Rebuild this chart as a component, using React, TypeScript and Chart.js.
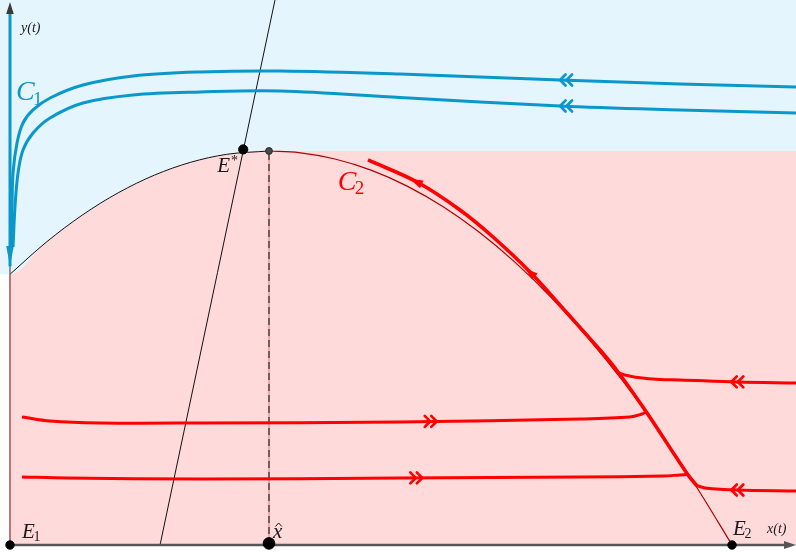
import { useEffect, useRef } from "react";
import { Chart, registerables } from "chart.js";

Chart.register(...registerables);

// Visible window of the phase plane (x: prey, y: predator)
const X_MIN = -1.385;
const X_MAX = 108.86;
const Y_MIN = -1.777;
const Y_MAX = 138.32;

// Equilibria and special abscissae
const E1 = { x: 0, y: 0 };
const E2 = { x: 100, y: 0 };
const X_HAT = 35.87;
const PEAK_Y = 100;
const E_STAR = { x: 32.3, y: 100.4 };
const Y_AXIS_CUSP = 68.71;

// Prey nullcline: separatrix between regions C1 and C2
const boundaryX = [0, 5, 10, 15, 20, 25, 30, 35.87, 40, 45, 50, 55, 60, 65, 70, 75, 80, 85, 90, 95, 100];
const boundaryY = [68.71, 76.82, 83.72, 89.4, 93.87, 97.12, 99.15, 100, 99.58, 97.96, 95.14, 91.09, 85.84, 79.36, 71.67, 62.76, 52.64, 41.31, 28.75, 14.98, 0];

// Predator nullcline
const isoclineX = [20.78, 36.7];
const isoclineY = [0, 138.32];

// Trajectories in C1 (blue)
const c1UpperX = [108.86, 92.8, 76.18, 54.02, 37.4, 26.32, 17.04, 10.11, 5.54, 3.19, 1.8, 0.97, 0.42, 0.28, 0.14];
const c1UpperY = [116.24, 117.01, 118.02, 119.54, 120.3, 120.05, 119.04, 116.75, 113.45, 110.41, 107.11, 102.03, 94.42, 85.79, 75.63];
const c1LowerX = [108.86, 92.8, 76.18, 54.02, 37.4, 26.32, 17.04, 10.11, 5.54, 3.19, 1.8, 1.11, 0.69, 0.42];
const c1LowerY = [109.64, 110.41, 111.42, 113.58, 115.23, 114.97, 114.21, 112.18, 108.38, 104.57, 100.25, 94.42, 85.79, 75.63];

// Trajectories in C2 (red)
const c2SlowX = [95.29, 93.91, 88.23, 84.21, 81.72, 77.15, 72.02, 66.9, 62.33, 56.37, 49.58];
const c2SlowY = [14.72, 17.77, 33.5, 43.91, 49.49, 58.88, 69.29, 78.17, 85.03, 92.13, 97.72];
const c2RightUpperX = [108.86, 100.69, 92.8, 90.0, 87.0, 85.3, 84.4];
const c2RightUpperY = [41.12, 41.37, 41.88, 42.0, 42.5, 43.1, 43.6];
const c2RightLowerX = [108.86, 100.69, 96.26, 95.29];
const c2RightLowerY = [13.71, 13.96, 14.47, 14.97];
const c2LeftUpperX = [1.66, 5.54, 12.47, 26.32, 54.02, 78.95, 85.87, 87.53, 88.09];
const c2LeftUpperY = [32.49, 31.47, 30.96, 30.96, 31.22, 31.98, 32.49, 33.25, 33.76];
const c2LeftLowerX = [1.66, 7.89, 26.32, 54.02, 78.95, 90.44, 92.8, 93.91];
const c2LeftLowerY = [17.26, 17.01, 16.75, 17.01, 17.26, 17.51, 17.77, 17.9];

// Direction markers: double chevrons (dir -1 = leftwards, +1 = rightwards)
const chevronX = [76.18, 76.18, 59.1, 57.1, 99.9, 99.9];
const chevronY = [118.02, 111.42, 31.37, 17.03, 41.4, 13.97];
const chevronDir = [-1, -1, 1, 1, -1, -1];
const chevronSeries = ["c1", "c1", "c2", "c2", "c2", "c2"];

// Single arrowheads on the slow trajectory along C2 (tip, then a point behind it)
const slowArrowTipX = [55.4, 71.33];
const slowArrowTipY = [92.92, 70.25];
const slowArrowTailX = [57.06, 72.44];
const slowArrowTailY = [91.5, 68.53];

const BLUE = "#0a98cb";
const RED = "#ff0000";
const PINK_FILL = "#ffdadb";
const BLUE_FILL = "#e4f5fd";
const INK = "#1a1a1a";

const zip = (xs: number[], ys: number[]) => xs.map((x, i) => ({ x, y: ys[i] }));

const peakIdx = boundaryX.indexOf(X_HAT);
const leftArc = zip(boundaryX.slice(0, peakIdx + 1), boundaryY.slice(0, peakIdx + 1));
const rightArc = zip(boundaryX.slice(peakIdx), boundaryY.slice(peakIdx));
const regionEdge = [...leftArc, { x: X_MAX, y: PEAK_Y }];

const serif = (size: number, italic = true) =>
  `${italic ? "italic " : ""}${size}px "Liberation Serif", "DejaVu Serif", serif`;

function drawChevrons(ctx: CanvasRenderingContext2D, cx: number, cy: number, dir: number, color: string) {
  ctx.save();
  ctx.strokeStyle = color;
  ctx.lineWidth = 2.7;
  ctx.lineCap = "round";
  ctx.lineJoin = "miter";
  for (const off of [0, 6.5]) {
    const tip = cx - dir * off;
    const back = tip - dir * 5.5;
    ctx.beginPath();
    ctx.moveTo(back, cy - 5.5);
    ctx.lineTo(tip, cy);
    ctx.lineTo(back, cy + 5.5);
    ctx.stroke();
  }
  ctx.restore();
}

function drawHead(
  ctx: CanvasRenderingContext2D,
  tx: number,
  ty: number,
  fx: number,
  fy: number,
  len: number,
  half: number,
  color: string
) {
  const a = Math.atan2(ty - fy, tx - fx);
  const bx = tx - len * Math.cos(a);
  const by = ty - len * Math.sin(a);
  ctx.save();
  ctx.fillStyle = color;
  ctx.beginPath();
  ctx.moveTo(tx, ty);
  ctx.lineTo(bx + half * Math.sin(a), by - half * Math.cos(a));
  ctx.lineTo(bx - half * Math.sin(a), by + half * Math.cos(a));
  ctx.closePath();
  ctx.fill();
  ctx.restore();
}

// Base letter with optional subscript/superscript, LaTeX style
function drawSymbol(
  ctx: CanvasRenderingContext2D,
  x: number,
  y: number,
  base: string,
  size: number,
  color: string,
  sub?: string,
  sup?: string
) {
  ctx.save();
  ctx.fillStyle = color;
  ctx.textBaseline = "alphabetic";
  ctx.textAlign = "left";
  ctx.font = serif(size);
  ctx.fillText(base, x, y);
  const w = ctx.measureText(base).width;
  if (sub) {
    ctx.font = serif(Math.round(size * 0.68), false);
    ctx.fillText(sub, x + w - size * 0.06, y + size * 0.16);
  }
  if (sup) {
    ctx.font = serif(Math.round(size * 0.68), false);
    ctx.fillText(sup, x + w + 1, y - size * 0.36);
  }
  ctx.restore();
}

const overlay = {
  id: "phaseOverlay",
  afterDatasetsDraw(chart: any) {
    const ctx: CanvasRenderingContext2D = chart.ctx;
    const xs = chart.scales.x;
    const ys = chart.scales.y;
    const px = (v: number) => xs.getPixelForValue(v);
    const py = (v: number) => ys.getPixelForValue(v);

    // axis arrowheads
    drawHead(ctx, px(0), py(Y_MAX) + 2, px(0), py(Y_MAX) + 20, 12, 3.8, "#3a3a3a");
    drawHead(ctx, px(X_MAX), py(0), px(X_MAX) - 20, py(0), 12, 4, "#555");

    // flow down the y-axis inside C1
    drawHead(ctx, px(0), py(70.8), px(0), py(76), 20, 3.8, BLUE);

    // slow-manifold arrows
    slowArrowTipX.forEach((tx, i) => {
      drawHead(
        ctx,
        px(tx),
        py(slowArrowTipY[i]),
        px(slowArrowTailX[i]),
        py(slowArrowTailY[i]),
        13,
        4.2,
        RED
      );
    });

    // fast-flow double chevrons
    chevronX.forEach((cx, i) => {
      drawChevrons(ctx, px(cx), py(chevronY[i]), chevronDir[i], chevronSeries[i] === "c1" ? BLUE : RED);
    });

    // labels
    drawSymbol(ctx, px(0) + 11, py(Y_MAX) + 32, "y(t)", 14, INK);
    drawSymbol(ctx, px(0) + 6, py(112.9), "C", 28, BLUE, "1");
    drawSymbol(ctx, px(45.4), py(90.1), "C", 28, RED, "2");
    drawSymbol(ctx, px(E_STAR.x) - 26, py(E_STAR.y) + 23, "E", 21, INK, undefined, "*");
    drawSymbol(ctx, px(E1.x) + 12, py(E1.y) - 7, "E", 21, INK, "1");
    drawSymbol(ctx, px(E2.x) + 1, py(E2.y) - 10, "E", 21, INK, "2");
    drawSymbol(ctx, px(X_MAX) - 29, py(0) - 12, "x(t)", 14, INK);

    // x-hat
    const hx = px(X_HAT) + 4;
    const hy = py(0) - 7;
    ctx.save();
    ctx.font = serif(21);
    ctx.fillStyle = INK;
    ctx.fillText("x", hx, hy);
    const cw = ctx.measureText("x").width;
    const mid = hx + cw / 2 + 1;
    ctx.strokeStyle = INK;
    ctx.lineWidth = 1;
    ctx.beginPath();
    ctx.moveTo(mid - 3.2, hy - 11.5);
    ctx.lineTo(mid, hy - 15);
    ctx.lineTo(mid + 3.2, hy - 11.5);
    ctx.stroke();
    ctx.restore();
  },
};

function line(data: { x: number; y: number }[], color: string, width: number, order: number, extra: any = {}) {
  return {
    data,
    borderColor: color,
    borderWidth: width,
    pointRadius: 0,
    fill: false,
    tension: 0.35,
    order,
    ...extra,
  };
}

export default function App() {
  const canvasRef = useRef<HTMLCanvasElement | null>(null);

  useEffect(() => {
    const canvas = canvasRef.current;
    if (!canvas) return;

    const chart = new Chart(canvas, {
      type: "line",
      data: {
        datasets: [
          // regions
          line(regionEdge, "rgba(0,0,0,0)", 0, 100, {
            fill: "origin",
            backgroundColor: PINK_FILL,
            cubicInterpolationMode: "monotone",
          }),
          line([{ x: X_MIN, y: Y_AXIS_CUSP }, ...regionEdge], "rgba(0,0,0,0)", 0, 99, {
            fill: "end",
            backgroundColor: BLUE_FILL,
            cubicInterpolationMode: "monotone",
          }),
          // vertical through x-hat
          line([{ x: X_HAT, y: 0 }, { x: X_HAT, y: PEAK_Y }], "#f2a6a6", 2, 60, { tension: 0 }),
          line([{ x: X_HAT, y: 0 }, { x: X_HAT, y: PEAK_Y }], "#2a2a2a", 1.2, 59, {
            tension: 0,
            borderDash: [7, 4],
          }),
          // nullclines
          line(zip(isoclineX, isoclineY), "#111", 1, 50, { tension: 0 }),
          line(leftArc, "#111", 1, 50, { cubicInterpolationMode: "monotone" }),
          line(rightArc, "#b30000", 1.2, 50, { cubicInterpolationMode: "monotone" }),
          // y-axis
          line([{ x: 0, y: 0 }, { x: 0, y: 136.5 }], "#555", 1.2, 48, { tension: 0 }),
          line([{ x: 0, y: 0 }, { x: 0, y: Y_AXIS_CUSP }], "#e06060", 1.2, 47, { tension: 0 }),
          line([{ x: 0, y: Y_AXIS_CUSP + 2 }, { x: 0, y: 135.5 }], BLUE, 3, 30, { tension: 0 }),
          // trajectories
          line(zip(c1UpperX, c1UpperY), BLUE, 3, 30),
          line(zip(c1LowerX, c1LowerY), BLUE, 3, 30),
          line(zip(c2SlowX, c2SlowY), RED, 3.6, 30),
          line(zip(c2RightUpperX, c2RightUpperY), RED, 3, 30),
          line(zip(c2RightLowerX, c2RightLowerY), RED, 3, 30),
          line(zip(c2LeftUpperX, c2LeftUpperY), RED, 3, 30),
          line(zip(c2LeftLowerX, c2LeftLowerY), RED, 3, 30),
          // x-axis
          line([{ x: 0, y: 0 }, { x: X_MAX - 1.2, y: 0 }], "#555", 2.6, 20, { tension: 0 }),
          // equilibria
          {
            data: [E1, { x: X_HAT, y: 0.4 }, E2, E_STAR, { x: X_HAT, y: PEAK_Y }],
            showLine: false,
            pointRadius: [4.2, 5.8, 4.2, 4.6, 3.4],
            pointBackgroundColor: ["#000", "#000", "#000", "#000", "#4a4a4a"],
            pointBorderColor: ["#000", "#000", "#000", "#000", "#2a2a2a"],
            pointBorderWidth: 1,
            order: 0,
            clip: false,
          },
        ],
      },
      options: {
        animation: false,
        responsive: false,
        events: [],
        layout: { padding: 0, autoPadding: false },
        plugins: {
          legend: { display: false },
          tooltip: { enabled: false },
          title: { display: false },
        },
        scales: {
          x: { type: "linear", min: X_MIN, max: X_MAX, display: false },
          y: { type: "linear", min: Y_MIN, max: Y_MAX, display: false },
        },
      },
      plugins: [overlay],
    } as any);

    return () => chart.destroy();
  }, []);

  return (
    <div style={{ position: "fixed", left: 0, top: 0, width: 796, height: 552, background: "#fff" }}>
      <canvas ref={canvasRef} width={796} height={552} style={{ display: "block", width: 796, height: 552 }} />
    </div>
  );
}
